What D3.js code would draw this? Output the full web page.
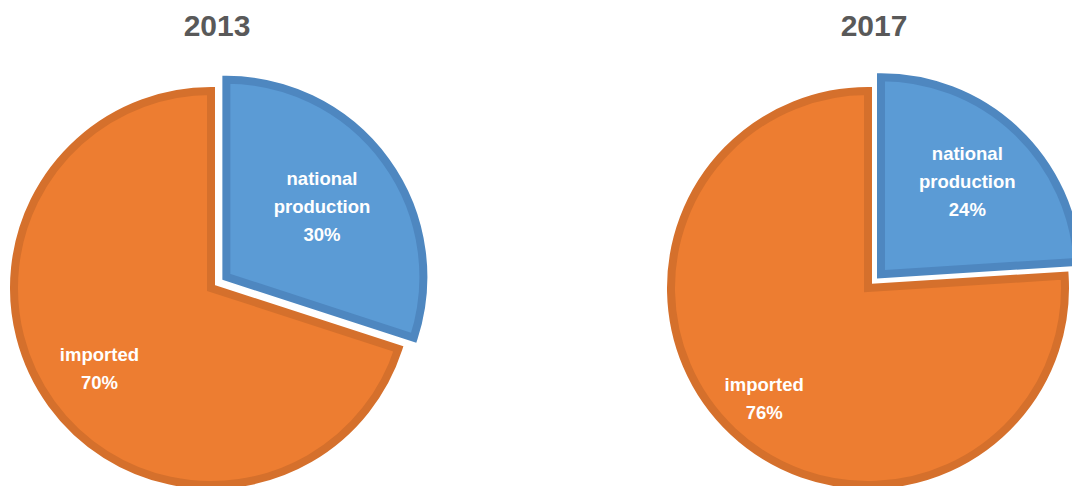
<html>
<head>
<script src="https://cdn.jsdelivr.net/npm/d3@7"></script>
<style>
  body { margin: 0; background: #fff; font-family: "Liberation Sans", Arial, sans-serif; }
  svg { display: block; }
</style>
</head>
<body>
<svg id="chart"></svg>
<script>
// data
let years = ["2013", "2017"]
let categories = ["national production", "imported"]
let values2013 = [30, 70]
let values2017 = [24, 76]

let fills = ["#5b9bd5", "#ed7d31"]
let strokes = ["#4e87c0", "#d5702c"]

let width = 1072, height = 486
let svg = d3.select("#chart").attr("width", width).attr("height", height)

// layout for each pie (center, label radius factors)
let pies = [
  { year: years[0], values: values2013, cx: 211, cy: 288, labelK: [0.6, 0.7] },
  { year: years[1], values: values2017, cx: 868, cy: 288, labelK: [0.64, 0.77] }
]
let radius = 197
let explode = 19

let pie = d3.pie().sort(null).value(d => d.value)
let arc = d3.arc().innerRadius(0).outerRadius(radius)

pies.forEach(p => {
  let data = categories.map((c, i) => ({ name: c, value: p.values[i], idx: i }))
  let arcs = pie(data)
  let g = svg.append("g").attr("transform", `translate(${p.cx},${p.cy})`)

  // title
  svg.append("text")
    .attr("x", p.cx + 6)
    .attr("y", 36)
    .attr("text-anchor", "middle")
    .attr("font-size", 30)
    .attr("font-weight", "bold")
    .attr("fill", "#595959")
    .text(p.year)

  let slices = g.selectAll("g.slice").data(arcs).enter().append("g")
    .attr("class", "slice")
    .attr("transform", d => {
      if (d.data.idx !== 0) return null
      let mid = (d.startAngle + d.endAngle) / 2
      return `translate(${Math.sin(mid) * explode},${-Math.cos(mid) * explode})`
    })

  slices.append("path")
    .attr("d", arc)
    .attr("fill", d => fills[d.data.idx])
    .attr("stroke", d => strokes[d.data.idx])
    .attr("stroke-width", 8)
    .attr("stroke-linejoin", "miter")

  let labels = slices.append("text")
    .attr("text-anchor", "middle")
    .attr("font-size", 18.5)
    .attr("font-weight", "bold")
    .attr("fill", "#fff")
    .attr("transform", d => {
      let mid = (d.startAngle + d.endAngle) / 2
      let r = radius * p.labelK[d.data.idx]
      return `translate(${Math.sin(mid) * r},${-Math.cos(mid) * r})`
    })

  labels.each(function(d) {
    let lines = d.data.idx === 0 ? ["national", "production", d.data.value + "%"] : ["imported", d.data.value + "%"]
    let t = d3.select(this)
    let lh = 28
    let y0 = -((lines.length - 1) * lh) / 2 + 6
    lines.forEach((l, i) => {
      t.append("tspan").attr("x", 0).attr("y", y0 + i * lh).text(l)
    })
  })
})
</script>
</body>
</html>
